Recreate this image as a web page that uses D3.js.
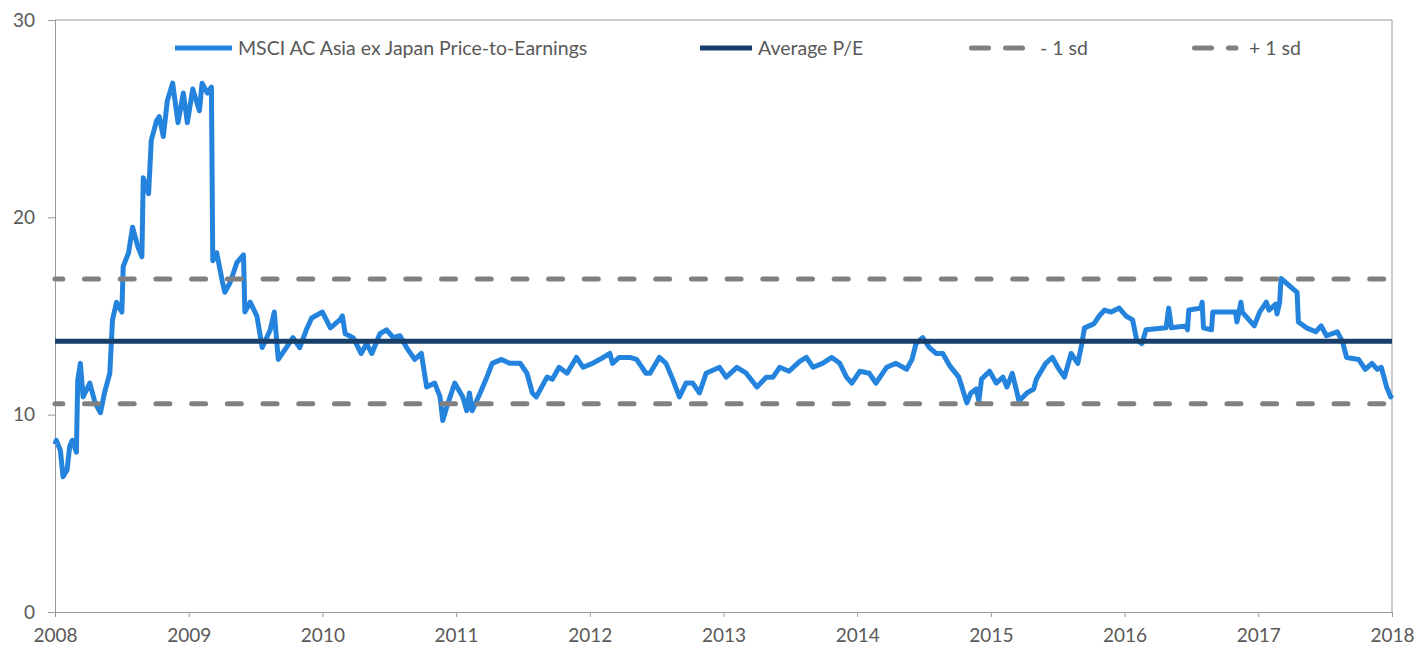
<!DOCTYPE html>
<html>
<head>
<meta charset="utf-8">
<script src="https://cdn.jsdelivr.net/npm/d3@7"></script>
<style>
  body { margin: 0; background: #fff; }
  text { font-family: Lato, "Open Sans", sans-serif; fill: #595959; }
</style>
</head>
<body>
<svg id="chart" width="1419" height="650"></svg>
<script>
// P/E readings (decimal year, value)
var years = [2008.00, 2008.01, 2008.04, 2008.06, 2008.09, 2008.11, 2008.13, 2008.16, 2008.17, 2008.19,
  2008.21, 2008.26, 2008.30, 2008.34, 2008.37, 2008.41, 2008.43, 2008.46, 2008.50, 2008.51,
  2008.55, 2008.58, 2008.62, 2008.65, 2008.66, 2008.70, 2008.72, 2008.76, 2008.78, 2008.81,
  2008.84, 2008.88, 2008.92, 2008.96, 2008.99, 2009.03, 2009.08, 2009.10, 2009.14, 2009.17,
  2009.18, 2009.21, 2009.25, 2009.27, 2009.31, 2009.36, 2009.41, 2009.42, 2009.46, 2009.51,
  2009.55, 2009.61, 2009.64, 2009.67, 2009.73, 2009.78, 2009.83, 2009.88, 2009.92, 2010.00,
  2010.06, 2010.13, 2010.15, 2010.17, 2010.23, 2010.29, 2010.33, 2010.37, 2010.43, 2010.48,
  2010.53, 2010.58, 2010.63, 2010.69, 2010.74, 2010.78, 2010.84, 2010.88, 2010.90, 2010.94,
  2010.99, 2011.05, 2011.08, 2011.10, 2011.12, 2011.18, 2011.23, 2011.27, 2011.34, 2011.40,
  2011.48, 2011.53, 2011.57, 2011.60, 2011.68, 2011.72, 2011.77, 2011.83, 2011.90, 2011.95,
  2012.02, 2012.10, 2012.15, 2012.17, 2012.22, 2012.30, 2012.35, 2012.42, 2012.45, 2012.52,
  2012.57, 2012.62, 2012.67, 2012.72, 2012.77, 2012.82, 2012.87, 2012.97, 2013.02, 2013.10,
  2013.17, 2013.25, 2013.32, 2013.37, 2013.42, 2013.49, 2013.57, 2013.62, 2013.67, 2013.74,
  2013.81, 2013.87, 2013.92, 2013.96, 2014.02, 2014.09, 2014.14, 2014.22, 2014.29, 2014.37,
  2014.41, 2014.44, 2014.49, 2014.54, 2014.59, 2014.64, 2014.69, 2014.76, 2014.82, 2014.85,
  2014.89, 2014.91, 2014.93, 2014.99, 2015.04, 2015.09, 2015.12, 2015.16, 2015.21, 2015.27,
  2015.32, 2015.34, 2015.41, 2015.46, 2015.50, 2015.55, 2015.60, 2015.65, 2015.68, 2015.70,
  2015.77, 2015.81, 2015.85, 2015.90, 2015.96, 2016.01, 2016.06, 2016.09, 2016.13, 2016.16,
  2016.31, 2016.33, 2016.35, 2016.46, 2016.47, 2016.48, 2016.57, 2016.58, 2016.59, 2016.65,
  2016.66, 2016.83, 2016.84, 2016.87, 2016.88, 2016.97, 2017.01, 2017.06, 2017.08, 2017.13,
  2017.14, 2017.16, 2017.17, 2017.29, 2017.30, 2017.36, 2017.43, 2017.47, 2017.51, 2017.59,
  2017.63, 2017.66, 2017.75, 2017.80, 2017.85, 2017.89, 2017.92, 2017.96, 2017.99, 2018.00];

var pe = [8.5, 8.7, 8.2, 6.85, 7.2, 8.4, 8.7, 8.1, 11.75, 12.6,
  10.9, 11.6, 10.6, 10.1, 11.1, 12.1, 14.8, 15.7, 15.2, 17.5,
  18.2, 19.5, 18.5, 18.0, 22.0, 21.2, 23.9, 24.9, 25.1, 24.1,
  25.9, 26.8, 24.8, 26.3, 24.8, 26.5, 25.4, 26.8, 26.3, 26.6,
  17.8, 18.2, 16.8, 16.2, 16.7, 17.7, 18.1, 15.2, 15.7, 15.0,
  13.4, 14.3, 15.2, 12.8, 13.4, 13.9, 13.4, 14.3, 14.9, 15.2,
  14.4, 14.8, 15.0, 14.1, 13.9, 13.1, 13.6, 13.1, 14.1, 14.3,
  13.9, 14.0, 13.4, 12.8, 13.1, 11.4, 11.6, 10.9, 9.7, 10.6,
  11.6, 10.9, 10.2, 11.1, 10.2, 11.1, 11.9, 12.6, 12.8, 12.6,
  12.6, 12.1, 11.1, 10.9, 11.9, 11.8, 12.4, 12.1, 12.9, 12.4,
  12.6, 12.9, 13.1, 12.6, 12.9, 12.9, 12.8, 12.1, 12.1, 12.9,
  12.6, 11.8, 10.9, 11.6, 11.6, 11.1, 12.1, 12.4, 11.9, 12.4,
  12.1, 11.4, 11.9, 11.9, 12.4, 12.2, 12.7, 12.9, 12.4, 12.6,
  12.9, 12.6, 11.9, 11.6, 12.2, 12.1, 11.6, 12.4, 12.6, 12.3,
  12.8, 13.6, 13.9, 13.4, 13.1, 13.1, 12.5, 11.9, 10.6, 11.1,
  11.3, 10.7, 11.8, 12.2, 11.6, 11.9, 11.4, 12.1, 10.7, 11.1,
  11.3, 11.8, 12.6, 12.9, 12.4, 11.9, 13.1, 12.6, 13.6, 14.4,
  14.6, 15.0, 15.3, 15.2, 15.4, 15.0, 14.8, 13.8, 13.6, 14.3,
  14.4, 15.4, 14.4, 14.5, 14.3, 15.3, 15.4, 15.7, 14.4, 14.3,
  15.2, 15.2, 14.7, 15.7, 15.2, 14.5, 15.2, 15.7, 15.3, 15.6,
  15.1, 15.7, 16.9, 16.2, 14.7, 14.4, 14.2, 14.5, 14.0, 14.2,
  13.7, 12.9, 12.8, 12.3, 12.6, 12.3, 12.4, 11.4, 10.9, 11.0];

var avgPE = 13.72;
var minus1sd = 10.55;
var plus1sd = 16.88;

var yTicks = [0, 10, 20, 30];
var xTicks = [2008, 2009, 2010, 2011, 2012, 2013, 2014, 2015, 2016, 2017, 2018];

var legendLabels = ["MSCI AC Asia ex Japan Price-to-Earnings", "Average P/E", "- 1 sd", "+ 1 sd"];

var blue = "#2484dd", navy = "#173f6a", grey = "#808080", axisGrey = "#999";

var svg = d3.select("#chart");
var margin = { top: 20, left: 55, right: 27, bottom: 38 };
var W = 1419 - margin.left - margin.right;
var H = 650 - margin.top - margin.bottom;

var g = svg.append("g").attr("transform", "translate(" + margin.left + "," + margin.top + ")");

var x = d3.scaleLinear().domain([2008, 2018]).range([0, W]);
var y = d3.scaleLinear().domain([0, 30]).range([H, 0]);

// frame: top and right lines
g.append("line").attr("x1", 0).attr("x2", W).attr("y1", 0).attr("y2", 0)
  .attr("stroke", axisGrey).attr("stroke-width", 1);
g.append("line").attr("x1", W).attr("x2", W).attr("y1", 0).attr("y2", H)
  .attr("stroke", axisGrey).attr("stroke-width", 1);

// axes
var yAxis = g.append("g")
  .call(d3.axisLeft(y).tickValues(yTicks).tickSize(7).tickPadding(13));
var xAxis = g.append("g").attr("transform", "translate(0," + H + ")")
  .call(d3.axisBottom(x).tickValues(xTicks).tickFormat(d3.format("d")).tickSize(5).tickPadding(12));

[yAxis, xAxis].forEach(function (a) {
  a.selectAll("path, line").attr("stroke", axisGrey);
  a.selectAll("text").style("font-size", "19px").attr("fill", "#595959")
    .style("font-family", "Lato, 'Open Sans', sans-serif");
});

var data = years.map(function (d, i) { return { t: d, v: pe[i] }; });
var line = d3.line().x(function (d) { return x(d.t); }).y(function (d) { return y(d.v); });

g.append("path").datum(data)
  .attr("d", line)
  .attr("fill", "none")
  .attr("stroke", blue)
  .attr("stroke-width", 5)
  .attr("stroke-linejoin", "round");

// reference lines, drawn over the series
function hline(v, color, dashed) {
  var l = g.append("line")
    .attr("x1", 0).attr("x2", W)
    .attr("y1", y(v)).attr("y2", y(v))
    .attr("stroke", color).attr("stroke-width", 5);
  if (dashed) l.attr("stroke-dasharray", "14,21.7").attr("stroke-linecap", "round").attr("stroke-dashoffset", 6.2);
  return l;
}
hline(plus1sd, grey, true);
hline(minus1sd, grey, true);
hline(avgPE, navy, false);

// legend
var legend = svg.append("g").attr("transform", "translate(0,48)");
var legendItems = [
  { x1: 175, x2: 232, tx: 238, color: blue, dashed: false },
  { x1: 700, x2: 752, tx: 758, color: navy, dashed: false },
  { x1: 971.5, x2: 1024, tx: 1040, color: grey, dashed: true },
  { x1: 1194.5, x2: 1236, tx: 1249, color: grey, dashed: true }
];
legendItems.forEach(function (it, i) {
  var l = legend.append("line")
    .attr("x1", it.x1).attr("x2", it.x2).attr("y1", 0).attr("y2", 0)
    .attr("stroke", it.color).attr("stroke-width", 5);
  if (it.dashed) l.attr("stroke-dasharray", "17,17").attr("stroke-linecap", "round");
  legend.append("text")
    .attr("x", it.tx).attr("y", 0).attr("dy", "0.35em")
    .style("font-size", "19.5px")
    .text(legendLabels[i]);
});
</script>
</body>
</html>
